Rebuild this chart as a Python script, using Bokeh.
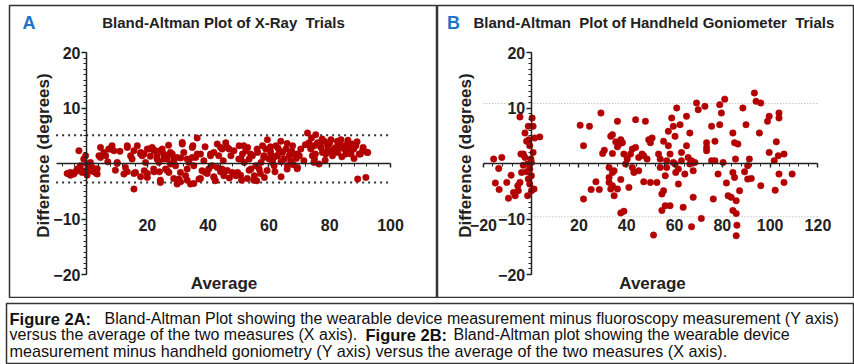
import math
from bokeh.plotting import figure
from bokeh.models import LinearAxis, SingleIntervalTicker, Label, Range1d
from bokeh.layouts import column, row
from bokeh.embed import file_html
from bokeh.resources import INLINE

# ---------------- data: panel A (X-Ray trials) ----------------
a_avg = [
    -5.3, -4.2, -3.1, -2.5, -2.0, -0.9, -0.3, 0.2, 0.8, 1.3, 1.9, 2.4, 3.0, 3.5, -1.4, -0.3, 0.8,
    4.1, 4.6, 5.7, 6.3, 7.3, 8.4, 9.0, 10.1, 12.3, 12.8, 13.4, 14.5, 15.0, 16.1, 15.6, 16.7, 17.8,
    18.3, 18.9, 19.4, 20.0, 20.5, 21.6, 22.1, 22.7, 23.2, 23.8, 24.3, 24.9, 25.4, 26.0, 26.5, 27.1,
    27.6, 28.2, 28.7, 29.3, 29.8, 30.4, 30.9, 31.5, 32.0, 32.6, 33.1, 33.7, 34.2, 34.8, 35.3, 35.9,
    36.4, 37.0, 37.5, 38.0, 39.1, 40.2, 40.8, 41.3, 41.9, 42.4, 43.5, 44.1, 44.6, 45.2,
    45.8, 46.9, 47.5, 48.0, 49.1, 49.7, 50.2, 50.8, 51.3, 51.9, 52.4, 53.0, 53.5, 54.1, 54.6, 55.2,
    55.7, 56.3, 56.8, 57.4, 57.9, 58.4, 59.0, 59.5, 60.1, 60.6, 61.2, 61.7, 62.3, 62.8, 63.4, 63.9,
    64.5, 65.0, 65.6, 66.1, 66.7, 67.2, 67.8, 68.3, 69.4, 70.0, 72.7, 73.2, 73.8, 74.3, 74.9, 75.4,
    76.0, 76.5, 77.1, 77.6, 78.2, 78.7, 79.3, 79.8, 80.4, 80.9, 82.0, 82.6, 83.1, 83.7, 84.2, 84.8,
    85.3, 85.9, 86.4, 87.0, 87.5, 88.6, 89.7, 90.8, 92.5, 89.2, 91.9,
    4.6, 7.9, 10.1, 13.4, 15.6, 17.8, 20.0, 22.2, 23.2, 24.3, 25.4, 26.5, 27.6, 28.7, 29.8, 31.5,
    33.1, 34.8, 36.4, 38.6, 40.8, 41.9, 43.0, 44.6, 46.3, 48.5, 50.1, 51.7, 54.0, 56.1, 58.3, 60.5,
    62.7, 64.9, 67.1, 69.3, 73.7, 75.3, 76.9, 79.2, 81.3, 83.5, 85.7, 87.9, 90.1, 92.3,
    13.4, 15.6, 17.8, 20.0, 22.2, 24.3, 26.5, 28.7, 30.9, 33.1, 35.3, 37.5, 39.7, 41.9, 44.1, 46.3,
    48.5, 50.7, 52.9, 55.0, 57.2, 59.4, 69.3, 74.8,
    -6.35, -5.3, -3.6, -2.0, 0.2, 2.4, 3.5,
    60.5, 61.5, 63.0, 64.0, 66.0, 67.5, 69.0, 70.5, 71.5, 72.0, 74.0, 75.0, 77.5, 78.5, 80.0, 81.0,
    82.5, 84.0, 86.0, 87.0, 88.0, 89.0, 91.0, 62.0, 64.0, 66.0, 68.0, 58.5, 56.0, 53.5, 51.0, 47.0,
    45.0, 43.0, 39.0, 35.0, 31.0, 27.0, 24.0, 21.0, 19.0, 11.0, 9.5, 7.0,
]
a_diff = [
    -1.6, -1.9, -1.0, 2.3, -0.4, 0.8, 1.4, -0.1, -0.4, 0.2, -0.7, -1.0, -1.6, -1.9, -1.6, -1.3, -1.3,
    1.4, 2.9, 2.0, 1.4, 2.6, 3.2, 2.3, 0.2, -1.9, -0.7, 3.2, 1.4, 0.8, -1.6, -4.6, 3.2, 2.0,
    1.4, 1.7, 0.2, -2.5, 2.6, 2.9, -1.0, 2.3, 0.8, 0.2, -3.4, 2.6, 1.7, -1.0, 0.8, -1.6,
    -0.1, 1.7, 1.1, -0.4, -3.7, -2.8, -1.6, 3.8, 2.0, -2.2, -1.0, 0.2, -3.7, 2.9, -0.4, 1.1,
    4.6, -2.8, 1.7, -1.3, -1.6, -1.0, 1.7, -0.4, -2.5, -3.1, 1.4, 2.9, -1.0, -2.2,
    3.75, 2.6, 1.4, -1.6, -2.2, -1.6, 3.2, 0.8, 1.7, 0.2, 2.3, 2.9, 0.8, -1.0, 1.4, -2.2,
    -0.4, 2.0, -1.0, 0.2, 3.2, 1.4, 2.6, 4.3, 0.8, 1.7, 0.2, -0.4, 3.2, 1.4, 2.3, 4.0,
    2.0, 0.8, 2.6, -0.4, 1.4, 0.5, 3.2, 1.7, -0.7, 1.4, 5.5, 3.75, 2.6, 1.4, 3.2, 5.2,
    3.75, -0.1, 2.9, 2.0, 4.0, 1.7, 3.2, 2.3, 4.3, 1.4, 2.9, 2.0, 3.5, 4.3, 3.2, 2.6,
    1.7, 3.75, 2.9, 1.7, 3.5, 3.2, 1.7, 2.3, 2.0, -2.8, -2.5,
    1.1, 2.6, 0.0, 2.9, 2.3, 1.7, 2.6, 2.3, 1.4, 2.3, 0.8, 1.4, 2.0, 0.2, 1.1, 3.5,
    0.8, 1.1, 1.7, 0.5, 1.4, 2.0, -0.7, 2.6, 2.9, 2.3, 0.8, 3.2, 1.7, 2.6, 1.1, 2.3,
    1.4, 0.8, 2.0, 1.7, 2.9, 1.7, 3.2, 2.3, 2.6, 2.9, 2.3, 2.6, 1.7, 2.0,
    -1.5, -1.8, -2.4, -1.8, -1.5, -3.0, -1.25, -2.7, -3.3, -3.0, -3.6, -2.7, -1.8, -2.4, -1.5, -1.25,
    -1.8, -2.1, -2.7, -3.0, -1.8, -1.25, -0.95, 0.2,
    -1.8, -2.1, -1.5, -1.25, -2.1, -1.5, -0.95,
    3.0, 1.0, 2.8, 0.3, 3.6, 2.2, 0.9, 2.6, 0.5, 3.4, 4.6, 0.8, 4.4, 0.6, 3.7, 1.9,
    4.0, 1.2, 4.2, 2.2, 0.9, 3.9, 2.9, -1.5, -2.4, -1.0, -0.2, -2.5, -3.1, -1.2, -3.0, -2.6,
    0.5, 3.5, 3.0, 3.2, 1.0, 3.3, -1.5, 1.3, -1.3, 2.2, -1.2, 0.3,
]
a_limits = [5.1, -3.4]          # limits of agreement
a_limit_span = [-10, 100]

# ---------------- data: panel B (Handheld goniometer trials) ----------------
b_avg = [
    -15.7, -12.3, -13.6, -15.0, -13.4, -10.2, -8.4, -9.5, -7.4, -6.7, -5.6, -5.4, -4.7, -4.0, -3.3,
    -2.6, -1.9, -1.5, -1.2, -1.0, -0.6, -0.1, 0.1, -0.6, 0.1, 0.4, 0.8, 0.8, 1.2, 1.5, 3.6, -1.9,
    -2.6, -1.2, -0.6, 0.1, -4.3, -3.3, -4.7, -1.5, 20.5, 21.9, 21.9,
    24.4, 29.2, 27.1, 28.5, 25.1, 29.9, 30.6, 33.3, 34.0, 34.0, 35.4, 36.1, 36.1, 36.8, 37.5, 38.2,
    38.8, 32.6, 34.0, 34.7, 32.6, 32.6, 33.3, 34.0, 34.7, 36.1, 37.5, 37.5, 38.8, 39.5, 40.2, 40.9,
    41.6, 42.3, 42.3, 43.0, 43.7, 43.7, 45.0, 45.0, 46.4, 47.1, 47.1, 47.8, 48.5, 49.2, 49.9, 49.9,
    50.6, 51.2, 52.6, 53.3, 54.0, 54.0, 54.7, 54.7, 55.4, 55.4, 56.1, 56.1, 56.7, 56.7, 57.4, 57.4,
    58.1, 58.1, 58.8, 59.5, 59.5, 60.2, 60.2, 60.5, 60.9, 61.6, 61.6, 62.3, 62.9, 62.9, 63.6, 64.3,
    65.0, 65.0, 65.7, 66.4, 66.4, 67.1, 67.1, 67.8, 67.8, 68.5, 69.2, 69.9, 71.2,
    72.7, 75.5, 76.9, 73.4, 73.4, 73.4, 75.5, 76.9, 78.2, 76.2, 78.9, 79.6, 78.9, 81.0, 80.3, 81.7,
    82.4, 83.7, 84.4, 84.4, 85.1, 85.1, 85.8, 84.4, 85.8, 85.5, 86.5, 86.1, 85.8, 87.2, 88.6, 89.3,
    89.9, 90.6, 91.3, 90.6, 92.1, 93.4, 94.1, 96.1, 96.1, 95.5, 98.9, 99.6, 99.6, 101.7, 102.1,
    102.6, 103.4, 103.7, 103.7, 103.7, 105.8, 105.8, 109.2,
]
b_diff = [
    0.8, 1.1, -0.9, -3.5, -4.7, -3.4, -2.1, -6.25, -5.2, -5.8, -4.0, -4.9, 8.4, -1.6, 1.7,
    5.5, -1.5, -5.8, 6.7, 4.3, 3.2, 0.8, 0.2, -1.0, -2.2, 8.2, 6.7, 2.0, -4.6, 4.6, 4.8, 4.0,
    1.1, -2.8, -3.7, -4.9, 1.7, -0.3, -3.4, -0.1, 6.9, 3.2, -6.4,
    6.7, 9.1, -3.3, -4.7, -4.7, 1.8, 2.4, 4.9, 5.2, 1.8, 3.9, 7.6, 3.0, 3.5, 4.3, 3.75,
    1.7, -0.7, -1.6, -1.3, -2.5, -3.4, -4.6, -4.0, -5.8, -4.6, -2.9, -8.9, -8.6, -0.1, 0.8, -4.3,
    1.7, 2.6, -0.7, -1.6, 7.9, 2.9, 1.1, -1.3, 1.7, 1.4, -3.3, 7.6, 0.8, 4.3, -3.4, 3.75,
    4.6, -12.9, -3.4, 1.7, 0.8, -0.7, -5.5, -8.45, 4.0, -4.9, -2.2, -7.6, 0.5, -0.7, 3.2, 5.8,
    1.7, -7.6, 8.2, 6.7, 0.2, -0.1, 4.9, -1.6, 10.0, -1.0, -3.7, 7.0, 2.0, 0.5, -7.9, -1.9,
    8.5, 3.2, 1.1, -0.1, 5.5, 0.5, -11.4, -6.1, -1.3, 0.2, 10.9, 9.7, -9.9,
    10.3, 6.7, 4.0, 3.75, 2.9, 2.3, 0.5, 0.5, -1.9, -6.4, 10.6, 9.1, 7.0, 11.6, 0.2, -3.5,
    -5.8, -6.1, 5.5, -1.6, 3.75, -2.5, -6.7, -8.45, -9.0, 0.8, 3.5, -11.1, -13.0, -4.9, 10.0, -1.5,
    7.0, -0.4, 0.8, -2.8, -2.7, 12.7, 11.2, 10.9, -4.0, 5.5, 7.6, 8.5, 2.0, 0.5, -4.8,
    3.9, 1.4, 9.1, 8.2, -1.9, 1.7, -3.4, -1.9,
]
b_limits = [10.8, -9.6]
b_limit_span = [-20, 120]

x_ticks_step = 20
y_ticks_step = 10
y_bounds = (-20, 20)

FONT = "Liberation Sans"
AX = "#222222"
DOT = "#b30000"
BLUE = "#1f74c4"


def make_panel(width, left_border, xr, xbounds, avg, diff, limits, span,
               lim_color, lim_width, lim_dash, letter, letter_x, title, title_x, title_align,
               ylab_x, avg_x):
    p = figure(width=width, height=298, output_backend="svg", toolbar_location=None,
               x_range=Range1d(*xr), y_range=Range1d(-24.32, 28.47),
               x_axis_location=None, y_axis_location=None,
               min_border_left=left_border, min_border_right=0,
               min_border_top=5, min_border_bottom=0)
    p.grid.visible = False
    p.outline_line_color = "#333333"
    p.outline_line_width = 1.5
    p.background_fill_color = "white"
    p.border_fill_color = "white"

    for lv in limits:
        p.line(x=span, y=[lv, lv], line_color=lim_color, line_width=lim_width, line_dash=lim_dash)

    p.scatter(x=avg, y=diff, size=6.5, fill_color=DOT, line_color=DOT, line_width=0.5)

    common = dict(fixed_location=0, axis_line_color=AX, axis_line_width=1.5,
                  major_tick_line_color=AX, minor_tick_line_color=AX,
                  major_tick_line_width=1.5, minor_tick_line_width=1,
                  major_tick_in=0, minor_tick_in=0,
                  major_label_text_font=FONT, major_label_text_font_size="16px",
                  major_label_text_font_style="bold", major_label_text_color=AX,
                  major_label_overrides={0: ""})
    xax = LinearAxis(ticker=SingleIntervalTicker(interval=x_ticks_step, num_minor_ticks=5),
                     bounds=xbounds, major_tick_out=4, minor_tick_out=3,
                     major_label_standoff=51, **common)
    p.add_layout(xax, "below")
    yax = LinearAxis(ticker=SingleIntervalTicker(interval=y_ticks_step, num_minor_ticks=10),
                     bounds=y_bounds, major_tick_out=5, minor_tick_out=3,
                     major_label_standoff=1, **common)
    p.add_layout(yax, "left")

    p.add_layout(Label(x=letter_x, y=276, x_units="screen", y_units="screen", text=letter,
                       text_font=FONT, text_font_size="18px", text_font_style="bold",
                       text_color=BLUE, text_align="center", text_baseline="middle"))
    p.add_layout(Label(x=title_x, y=276, x_units="screen", y_units="screen", text=title,
                       text_font=FONT, text_font_size="15px", text_font_style="bold",
                       text_color=AX, text_align=title_align, text_baseline="middle"))
    p.add_layout(Label(x=ylab_x, y=143, x_units="screen", y_units="screen",
                       text="Difference (degrees)", angle=math.pi / 2,
                       text_font=FONT, text_font_size="17px", text_font_style="bold",
                       text_color=AX, text_align="center", text_baseline="middle"))
    p.add_layout(Label(x=avg_x, y=15, x_units="screen", y_units="screen", text="Average",
                       text_font=FONT, text_font_size="17px", text_font_style="bold",
                       text_color=AX, text_align="center", text_baseline="middle"))
    return p


pA = make_panel(437, 9, (-25.33, 115.46), (-10, 100), a_avg, a_diff, a_limits, a_limit_span,
                "#333333", 2, "2 4", "A", 19.5,
                "Bland-Altman Plot of X-Ray \u00a0Trials", 214, "center", 34, 214.5)
pB = make_panel(417, 0, (-39.2, 135.3), (-20, 120), b_avg, b_diff, b_limits, b_limit_span,
                "#a8a8a8", 1, "1 2", "B", 16,
                "Bland-Altman \u00a0Plot of Handheld Goniometer \u00a0Trials", 36, "left", 28, 215)

# ---------------- caption ----------------
pc = figure(width=854, height=66, output_backend="svg", toolbar_location=None,
            x_range=Range1d(0, 1), y_range=Range1d(0, 1),
            x_axis_location=None, y_axis_location=None,
            min_border_left=6, min_border_right=0, min_border_top=5, min_border_bottom=0)
pc.grid.visible = False
pc.outline_line_color = "#333333"
pc.outline_line_width = 1.5

caption_parts = [
    (3, 46, "Figure 2A:", "bold", "16.5px"),
    (98, 46, "Bland-Altman Plot showing the wearable device measurement minus fluoroscopy measurement (Y axis)", "normal", "16px"),
    (3, 30, "versus the average of the two measures (X axis).", "normal", "16px"),
    (359, 30, "Figure 2B:", "bold", "16.5px"),
    (447, 30, "Bland-Altman plot showing the wearable device", "normal", "16px"),
    (3, 14, "measurement minus handheld goniometry (Y axis) versus the average of the two measures (X axis).", "normal", "16.2px"),
]
for cx, cy, txt, style, fs in caption_parts:
    pc.add_layout(Label(x=cx, y=cy, x_units="screen", y_units="screen", text=txt,
                        text_font=FONT, text_font_size=fs, text_font_style=style,
                        text_color="#111111", text_align="left", text_baseline="alphabetic"))

layout = column(row(pA, pB, spacing=0), pc, spacing=0)
open("out.html", "w").write(file_html(layout, INLINE))
